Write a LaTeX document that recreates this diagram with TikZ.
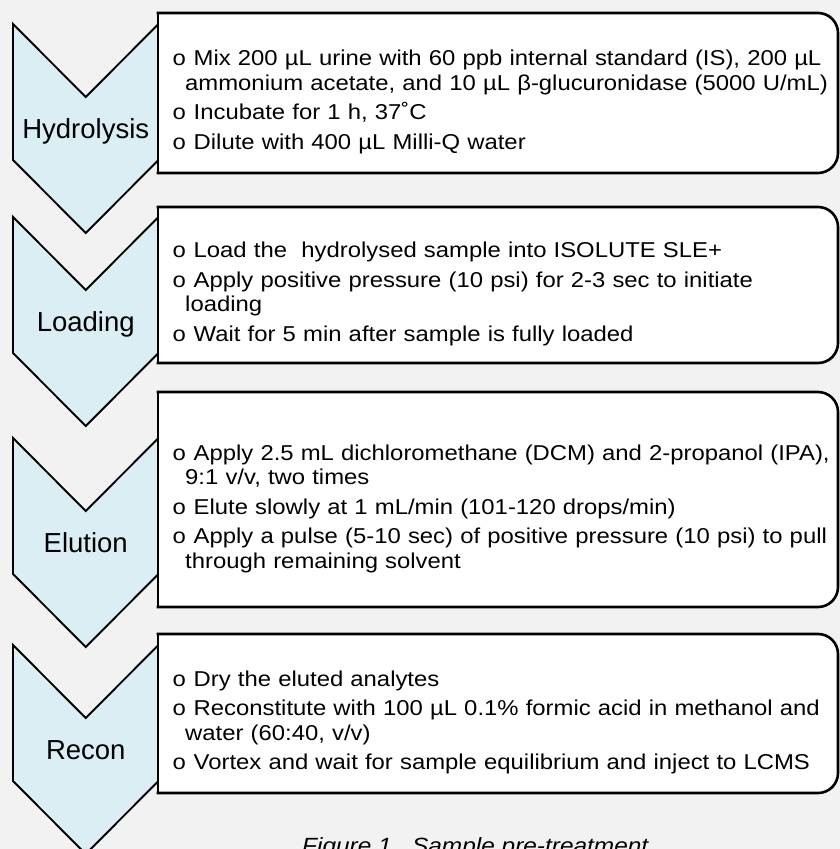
\documentclass[tikz,border=0pt]{standalone}
\usepackage{fontspec}
\setmainfont{Liberation Sans}
\newfontfamily\bodyfont[FakeStretch=1.11]{Liberation Sans}
\newfontfamily\bulletfont[FakeStretch=1.11]{Liberation Mono}
\usetikzlibrary{positioning}
\definecolor{pagegray}{HTML}{F2F2F2}
\definecolor{chevblue}{HTML}{DAEEF3}
\newcommand\stepitem[1]{\par\hangindent=13pt\hangafter=1\noindent{\bulletfont o}\ #1\par}

\begin{document}
\begin{tikzpicture}[x=1pt,y=-1pt,
    chevron/.style={draw=black,line width=1.9pt,fill=chevblue,line join=miter},
    stepbox/.style={draw=black,line width=2.6pt,fill=white,rounded corners=20pt,line cap=rect},
    boxside/.style={draw=black,line width=2.6pt,line cap=rect},
    steplabel/.style={font=\fontsize{27.5pt}{30pt}\selectfont,anchor=base,inner sep=0pt},
    steptext/.style={font=\bodyfont\fontsize{21.5pt}{24.5pt}\selectfont\setlength\parskip{5pt},
                     anchor=west,text width=660pt,align=left,inner sep=0pt}]
  \useasboundingbox (0,0) rectangle (840,849);
  \clip (0,0) rectangle (840,849);
  \fill[pagegray] (0,0) rectangle (840,849);
  % chevrons with their step names
  \foreach \t/\name/\lab in {24/hydro/Hydrolysis,217/load/Loading,438/elute/Elution,645/recon/Recon}{
    \draw[chevron] (13,\t) -- (85.75,\t+73) -- (158.5,\t) -- (158.5,\t+136)
                   -- (85.75,\t+209) -- (13,\t+136) -- cycle;
    \node[steplabel] (\name-label) at (85.75,\t+114) {\lab};
  }
  % text boxes, rounded on the right
  \foreach \top/\bot/\name in {13/173/hydro,207/363/load,392/607/elute,634/793/recon}{
    \draw[stepbox] (158,\top) -- (838,\top) -- (838,\bot) -- (158,\bot);
    \draw[boxside] (158,\top) -- (158,\bot);
    \coordinate (\name-box) at (158,{(\top+\bot)/2});
  }
  \node[steptext] (hydro-text) at ([shift={(14,2)}]hydro-box) {%
    \stepitem{Mix 200 µL urine with 60 ppb internal standard (IS), 200 µL\hfil\break
      ammonium acetate, and 10 µL β-glucuronidase (5000 U/mL)}
    \stepitem{Incubate for 1 h, 37˚C}
    \stepitem{Dilute with 400 µL Milli-Q water}};
  \node[steptext] (load-text) at ([shift={(14,2)}]load-box) {%
    \stepitem{Load the\ \ hydrolysed sample into ISOLUTE SLE+}
    \stepitem{Apply positive pressure (10 psi) for 2-3 sec to initiate\hfil\break
      loading}
    \stepitem{Wait for 5 min after sample is fully loaded}};
  \node[steptext] (elute-text) at ([shift={(14,2)}]elute-box) {%
    \stepitem{Apply 2.5 mL dichloromethane (DCM) and 2-propanol (IPA),\hfil\break
      9:1 v/v, two times}
    \stepitem{Elute slowly at 1 mL/min (101-120 drops/min)}
    \stepitem{Apply a pulse (5-10 sec) of positive pressure (10 psi) to pull\hfil\break
      through remaining solvent}};
  \node[steptext] (recon-text) at ([shift={(14,2)}]recon-box) {%
    \stepitem{Dry the eluted analytes}
    \stepitem{Reconstitute with 100 µL 0.1\% formic acid in methanol and\hfil\break
      water (60:40, v/v)}
    \stepitem{Vortex and wait for sample equilibrium and inject to LCMS}};
  \node[font=\bodyfont\itshape\fontsize{22pt}{24pt}\selectfont,anchor=base west,inner sep=0pt]
    (caption) at (302,853) {Figure 1.\ \ Sample pre-treatment};
\end{tikzpicture}
\end{document}
